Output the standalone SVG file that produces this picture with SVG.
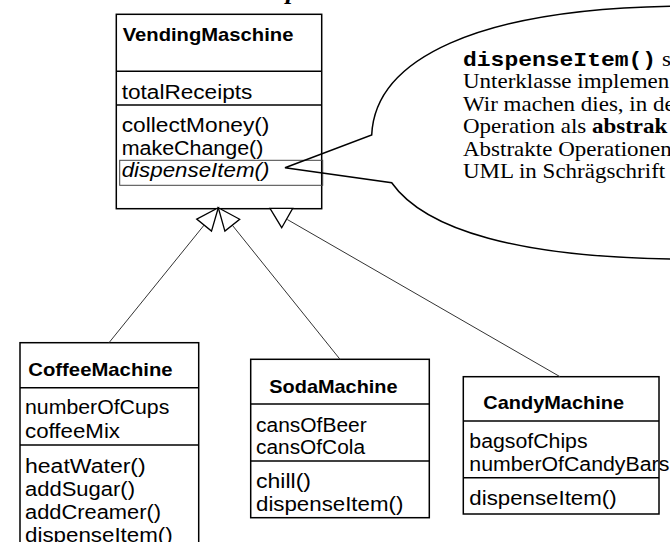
<svg xmlns="http://www.w3.org/2000/svg" width="670" height="542" viewBox="0 0 670 542">
  <style>
    .box { fill: #fff; stroke: #000; stroke-width: 1.5; }
    .sep { stroke: #000; stroke-width: 1.5; }
    .t { font-family: "Liberation Sans", Arial, sans-serif; font-size: 20px; fill: #000; }
    .b { font-weight: bold; font-size: 19px; }
    .i { font-style: italic; }
    .note { font-family: "Liberation Serif", "Times New Roman", serif; font-size: 21px; fill: #000; }
    .mono { font-family: "Liberation Mono", "Courier New", monospace; font-weight: bold; }
    .conn { stroke: #333; stroke-width: 1; fill: none; }
    .head { fill: #fff; stroke: #000; stroke-width: 1.3; stroke-linejoin: miter; }
    .bubble { fill: none; stroke: #000; stroke-width: 1.5; stroke-linejoin: miter; }
  </style>

  <!-- heading descender peeking in at the top edge -->
  <text x="286" y="-1.5" style="font-family: 'Liberation Serif', serif; font-weight: bold; font-style: italic; font-size: 26px;">p</text>

  <!-- superclass -->
  <g id="VendingMaschine">
    <rect class="box" x="116.3" y="14.3" width="205.4" height="194.4"/>
    <line class="sep" x1="116.3" y1="71.3" x2="321.7" y2="71.3"/>
    <line class="sep" x1="116.3" y1="105" x2="321.7" y2="105"/>
    <text class="t b" x="122.7" y="41.3" textLength="170.7" lengthAdjust="spacingAndGlyphs">VendingMaschine</text>
    <text class="t" x="121.7" y="99" textLength="130.7" lengthAdjust="spacingAndGlyphs">totalReceipts</text>
    <text class="t" x="121.7" y="131.5" textLength="147.7" lengthAdjust="spacingAndGlyphs">collectMoney()</text>
    <text class="t" x="121.7" y="154.5" textLength="141.7" lengthAdjust="spacingAndGlyphs">makeChange()</text>
    <rect x="119.7" y="160.3" width="203" height="25" fill="none" stroke="#444" stroke-width="1"/>
    <text class="t i" x="121.7" y="177" textLength="147.7" lengthAdjust="spacingAndGlyphs">dispenseItem()</text>
  </g>

  <!-- subclasses -->
  <g id="CoffeeMachine">
    <rect class="box" x="20" y="342.7" width="178.7" height="220"/>
    <line class="sep" x1="20" y1="387.7" x2="198.7" y2="387.7"/>
    <line class="sep" x1="20" y1="445" x2="198.7" y2="445"/>
    <text class="t b" x="28.3" y="375.7" textLength="144.3" lengthAdjust="spacingAndGlyphs">CoffeeMachine</text>
    <text class="t" x="25" y="414.3" textLength="144.3" lengthAdjust="spacingAndGlyphs">numberOfCups</text>
    <text class="t" x="25" y="437.7" textLength="95" lengthAdjust="spacingAndGlyphs">coffeeMix</text>
    <text class="t" x="25" y="472.7" textLength="120.7" lengthAdjust="spacingAndGlyphs">heatWater()</text>
    <text class="t" x="25" y="495.5" textLength="110" lengthAdjust="spacingAndGlyphs">addSugar()</text>
    <text class="t" x="25" y="518.5" textLength="136" lengthAdjust="spacingAndGlyphs">addCreamer()</text>
    <text class="t" x="25" y="541.5" textLength="147.7" lengthAdjust="spacingAndGlyphs">dispenseItem()</text>
  </g>

  <g id="SodaMachine">
    <rect class="box" x="250.7" y="359.3" width="178.6" height="158.4"/>
    <line class="sep" x1="250.7" y1="404" x2="429.3" y2="404"/>
    <line class="sep" x1="250.7" y1="461" x2="429.3" y2="461"/>
    <text class="t b" x="269.3" y="392.7" textLength="128.3" lengthAdjust="spacingAndGlyphs">SodaMachine</text>
    <text class="t" x="256" y="431.7" textLength="110.7" lengthAdjust="spacingAndGlyphs">cansOfBeer</text>
    <text class="t" x="256" y="454.3" textLength="109" lengthAdjust="spacingAndGlyphs">cansOfCola</text>
    <text class="t" x="256" y="488.3" textLength="55" lengthAdjust="spacingAndGlyphs">chill()</text>
    <text class="t" x="256" y="511" textLength="147.3" lengthAdjust="spacingAndGlyphs">dispenseItem()</text>
  </g>

  <g id="CandyMachine">
    <rect class="box" x="463.3" y="376.7" width="195.7" height="137.3"/>
    <line class="sep" x1="463.3" y1="421" x2="659" y2="421"/>
    <line class="sep" x1="463.3" y1="477.7" x2="659" y2="477.7"/>
    <text class="t b" x="483.3" y="409.3" textLength="140.7" lengthAdjust="spacingAndGlyphs">CandyMachine</text>
    <text class="t" x="469.3" y="448.3" textLength="118.3" lengthAdjust="spacingAndGlyphs">bagsofChips</text>
    <text class="t" x="469.3" y="471" textLength="200" lengthAdjust="spacingAndGlyphs">numberOfCandyBars</text>
    <text class="t" x="469.3" y="505" textLength="147.3" lengthAdjust="spacingAndGlyphs">dispenseItem()</text>
  </g>

  <!-- generalization connectors -->
  <g id="connectors">
    <line class="conn" x1="109" y1="342.7" x2="204.1" y2="225.1"/>
    <polygon class="head" points="218.3,207.7 211.5,231.1 196.7,219.1"/>
    <line class="conn" x1="340" y1="359.3" x2="232.3" y2="225.2"/>
    <polygon class="head" points="218.3,207.7 239.7,219.3 224.9,231.1"/>
    <line class="conn" x1="560" y1="376.7" x2="287.3" y2="219.5"/>
    <polygon class="head" points="270,208.3 292.7,208.3 281.7,227.7"/>
  </g>

  <!-- callout on the abstract operation; its text is set slightly wide -->
  <g id="note">
    <path class="bubble" d="M680,6 C475,8 375,60 371.7,135 L285,167.7 L391.7,182.7 C425,230 520,258 680,259"/>
    <text class="note" transform="translate(463 65.5) scale(1.095 1)"><tspan class="mono">dispenseItem()</tspan> s</text>
    <text class="note" transform="translate(463 88) scale(1.095 1)">Unterklasse implemen</text>
    <text class="note" transform="translate(463 110.5) scale(1.095 1)">Wir machen dies, in de</text>
    <text class="note" transform="translate(463 133) scale(1.095 1)">Operation als <tspan font-weight="bold">abstrak</tspan></text>
    <text class="note" transform="translate(463 155.5) scale(1.095 1)">Abstrakte Operationen</text>
    <text class="note" transform="translate(463 178) scale(1.095 1)">UML in Schrägschrift</text>
  </g>
</svg>
